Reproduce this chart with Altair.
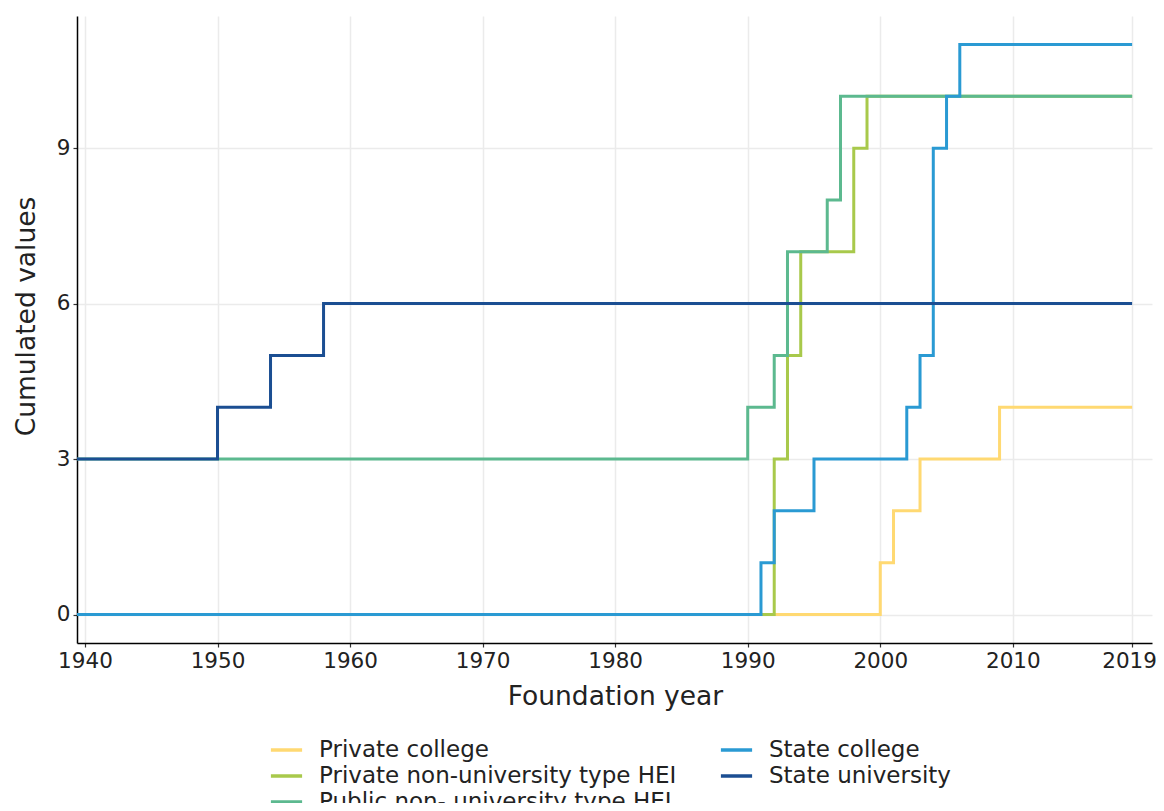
import altair as alt
import pandas as pd

series_names = [
    "Private college",
    "Private non-university type HEI",
    "Public non- university type HEI",
    "State college",
    "State university",
]
series_colors = ["#FFD972", "#A8C94B", "#5CB98F", "#2A9AD3", "#1B4E92"]

private_college_years = [1939, 2000, 2001, 2003, 2009, 2019]
private_college_vals = [0, 1, 2, 3, 4, 4]

private_nonuni_years = [1939, 1992, 1993, 1994, 1998, 1999, 2019]
private_nonuni_vals = [0, 3, 5, 7, 9, 10, 10]

public_nonuni_years = [1939, 1990, 1992, 1993, 1996, 1997, 2019]
public_nonuni_vals = [3, 4, 5, 7, 8, 10, 10]

state_college_years = [1939, 1991, 1992, 1995, 2002, 2003, 2004, 2005, 2006, 2019]
state_college_vals = [0, 1, 2, 3, 4, 5, 9, 10, 11, 11]

state_univ_years = [1939, 1950, 1954, 1958, 2019]
state_univ_vals = [3, 4, 5, 6, 6]

x_ticks = [1940, 1950, 1960, 1970, 1980, 1990, 2000, 2010, 2019]
y_ticks = [0, 3, 6, 9]

all_years = [private_college_years, private_nonuni_years, public_nonuni_years,
             state_college_years, state_univ_years]
all_vals = [private_college_vals, private_nonuni_vals, public_nonuni_vals,
            state_college_vals, state_univ_vals]

rows = []
for i, (name, ys, vs) in enumerate(zip(series_names, all_years, all_vals)):
    for y, v in zip(ys, vs):
        rows.append({"type": name, "year": y, "value": v, "ord": i})
df = pd.DataFrame(rows)

FONT = "DejaVu Sans"

chart = alt.Chart(df).mark_line(interpolate="step-after", strokeWidth=3, clip=True).encode(
    x=alt.X("year:Q",
            scale=alt.Scale(domain=[1939.4, 2020.5], nice=False, zero=False),
            axis=alt.Axis(values=x_ticks, format="d", title="Foundation year",
                          titleX=538, titleY=61, titleBaseline="alphabetic",
                          titleFontSize=26.5, titleFontWeight="normal",
                          labelOffset=alt.condition("datum.value == 2019",
                                                    alt.value(-3), alt.value(0))),
            ),
    y=alt.Y("value:Q",
            scale=alt.Scale(domain=[-0.55, 11.55], nice=False, zero=False),
            axis=alt.Axis(values=y_ticks, title="Cumulated values",
                          titleX=-43, titleY=300, titleAngle=270,
                          titleBaseline="alphabetic", titleAlign="center",
                          titleFontSize=26.5, titleFontWeight="normal")),
    color=alt.Color("type:N",
                    scale=alt.Scale(domain=series_names, range=series_colors),
                    legend=alt.Legend(title=None, orient="none", legendX=195.5, legendY=720,
                                      columns=2, columnPadding=37, rowPadding=0,
                                      symbolType="M-1.3,0H1.3", symbolSize=576,
                                      symbolStrokeWidth=3.5, labelFontSize=23,
                                      labelOffset=18.5, labelFont=FONT, labelLimit=500,
                                      labelColor="#222222")),
    detail="ord:O",
    order="ord:Q",
).properties(
    width=1075,
    height=627,
    padding={"left": 69, "top": 8, "right": 4, "bottom": 160},
    autosize=alt.AutoSizeParams(type="none"),
).configure_view(
    stroke=None
).configure_axis(
    labelFont=FONT,
    titleFont=FONT,
    labelFontSize=21.5,
    labelColor="#222222",
    titleColor="#222222",
    domainColor="#000000",
    domainWidth=1.5,
    tickColor="#333333",
    tickSize=4,
    tickWidth=1.2,
    gridColor="#EBEBEB",
    gridWidth=1.5,
    labelPadding=3,
)

chart.save("out.html", embed_options={"renderer": "svg", "actions": False})
